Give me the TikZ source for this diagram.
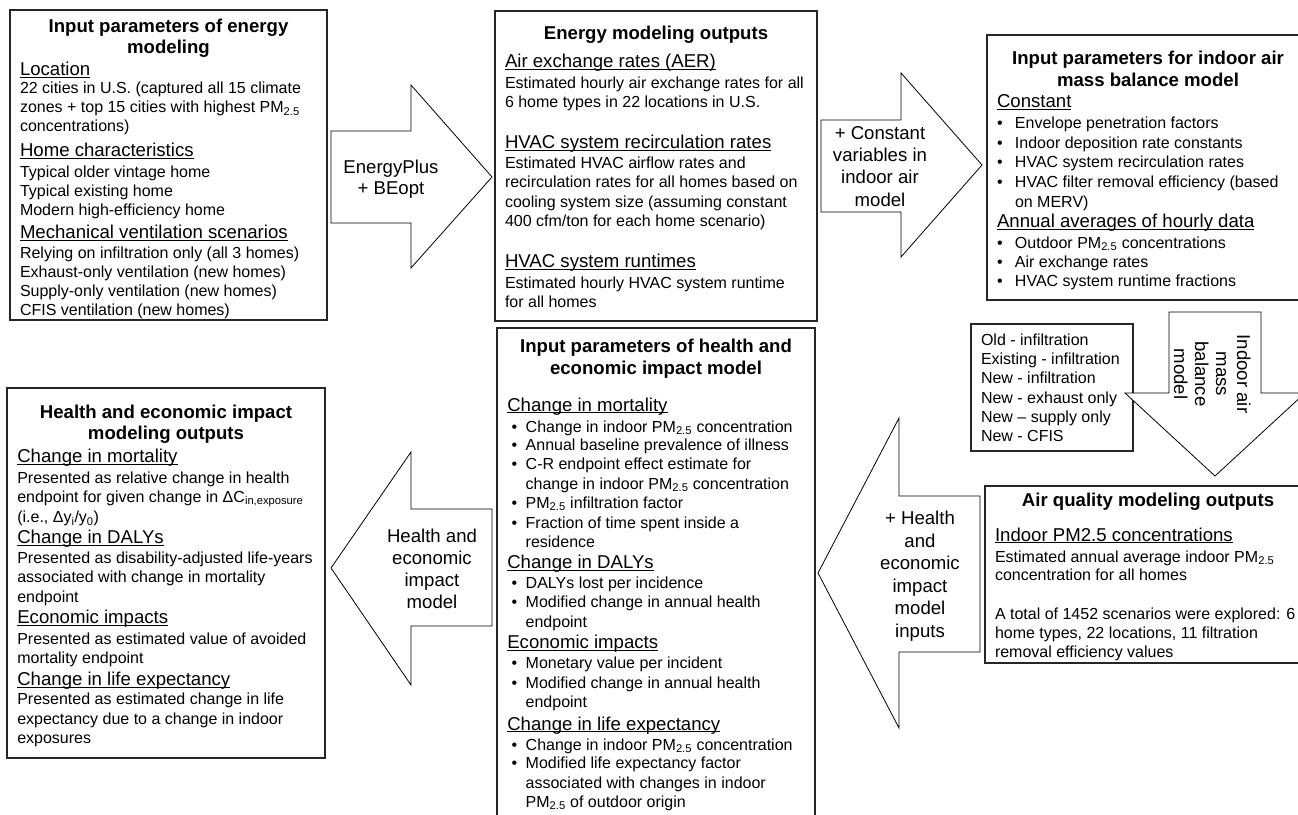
\documentclass[tikz,border=0pt]{standalone}
\usepackage{fontspec}
\setmainfont{Liberation Sans}
\newcount\tlc
\newcommand\bodyf{\fontsize{16}{19}\selectfont}
\newcommand\headf{\fontsize{18.6}{22}\selectfont}
\newcommand\titf{\fontsize{18.6}{22}\selectfont\bfseries}
\newcommand\hul[1]{\setbox0\hbox{#1}\rlap{\rule[-2pt]{\wd0}{0.9pt}}\box0}
\newcommand\PM{PM\textsubscript{2.5}}
\tikzset{
 box/.style={draw=black!85, line width=1.1pt, fill=white, inner sep=0pt, outer sep=0pt, anchor=north west},
 blockarrow/.style={draw=black, line width=0.8pt, fill=white, line join=miter},
 txt/.style={inner sep=0pt, outer sep=0pt, font=\bodyf, anchor=base west},
 hdtxt/.style={inner sep=0pt, outer sep=0pt, font=\headf, anchor=base west},
 ttl/.style={inner sep=0pt, outer sep=0pt, font=\titf, anchor=base},
 atxt/.style={inner sep=0pt, outer sep=0pt, font=\headf, anchor=base},
 vtxt/.style={inner sep=0pt, outer sep=0pt, font=\headf, anchor=base, rotate=-90},
}
\newcommand\tline[3]{\global\advance\tlc1\relax\node[txt] (t\the\tlc) at (#1,#2) {#3};}
\newcommand\hdl[3]{\global\advance\tlc1\relax\node[hdtxt] (t\the\tlc) at (#1,#2) {\hul{#3}};}
\newcommand\bline[4]{\global\advance\tlc1\relax\node[txt] (t\the\tlc) at (#1,#3) {\makebox[#2pt][l]{\textbullet}#4};}
\newcommand\ctr[4]{\global\advance\tlc1\relax\node[#1] (t\the\tlc) at (#2,#3) {#4};}
\begin{document}
\begin{tikzpicture}[x=1pt,y=-1pt]
\useasboundingbox (0,0) rectangle (1298,814);
\clip (0,0) rectangle (1298,814);
% ---------- boxes ----------
\node[box, minimum width=317pt, minimum height=310pt] (A) at (10,10) {};
\node[box, minimum width=322pt, minimum height=310pt] (B) at (495,11) {};
\node[box, minimum width=323pt, minimum height=265pt] (C) at (987,35) {};
\node[box, minimum width=162pt, minimum height=127pt] (D) at (971,324) {};
\node[box, minimum width=325pt, minimum height=177pt] (E) at (985,486) {};
\node[box, minimum width=318pt, minimum height=500pt] (F) at (497,328) {};
\node[box, minimum width=318pt, minimum height=370pt] (G) at (7,388) {};
% ---------- block arrows ----------
\draw[blockarrow] (331,131) -- (411,131) -- (411,85) -- (492,177) -- (411,268) -- (411,223) -- (331,223) -- cycle;
\draw[blockarrow] (821,120) -- (901,120) -- (901,73) -- (982,165) -- (901,257) -- (901,212) -- (821,212) -- cycle;
\draw[blockarrow] (1169,312) -- (1261,312) -- (1261,393) -- (1305,393) -- (1215,476) -- (1125,393) -- (1169,393) -- cycle;
\draw[blockarrow] (980,496) -- (899,496) -- (899,418) -- (818,573) -- (899,728) -- (899,652) -- (980,652) -- cycle;
\draw[blockarrow] (492,509) -- (411,509) -- (411,452) -- (331,568) -- (411,685) -- (411,626) -- (492,626) -- cycle;
% ---------- arrow texts ----------
\ctr{atxt}{391}{173.8}{EnergyPlus}
\ctr{atxt}{391}{194.4}{+ BEopt}
\ctr{atxt}{880}{139.4}{+ Constant}
\ctr{atxt}{880}{161.6}{variables in}
\ctr{atxt}{880}{183.8}{indoor air}
\ctr{atxt}{880}{206}{model}
\ctr{atxt}{920}{524.8}{+ Health}
\ctr{atxt}{920}{547.3}{and}
\ctr{atxt}{920}{569.8}{economic}
\ctr{atxt}{920}{592.3}{impact}
\ctr{atxt}{920}{614.8}{model}
\ctr{atxt}{920}{637.3}{inputs}
\ctr{atxt}{432}{542}{Health and}
\ctr{atxt}{432}{564}{economic}
\ctr{atxt}{432}{586}{impact}
\ctr{atxt}{432}{608}{model}
\ctr{vtxt}{1237}{374}{Indoor air}
\ctr{vtxt}{1216}{374}{mass}
\ctr{vtxt}{1195}{374}{balance}
\ctr{vtxt}{1174}{374}{model}
% ---------- box A ----------
\ctr{ttl}{168.5}{32.8}{Input parameters of energy}
\ctr{ttl}{168.5}{53.8}{modeling}
\hdl{20}{75.5}{Location}
\tline{20}{93.5}{22 cities in U.S. (captured all 15 climate}
\tline{20}{112.5}{zones + top 15 cities with highest \PM}
\tline{20}{131}{concentrations)}
\hdl{20}{156.5}{Home characteristics}
\tline{20}{177.5}{Typical older vintage home}
\tline{20}{196.5}{Typical existing home}
\tline{20}{215.8}{Modern high-efficiency home}
\hdl{20}{238.5}{Mechanical ventilation scenarios}
\tline{20}{258.5}{Relying on infiltration only (all 3 homes)}
\tline{20}{277.5}{Exhaust-only ventilation (new homes)}
\tline{20}{296.5}{Supply-only ventilation (new homes)}
\tline{20}{315.5}{CFIS ventilation (new homes)}
% ---------- box B ----------
\ctr{ttl}{656}{39.5}{Energy modeling outputs}
\hdl{505}{67.8}{Air exchange rates (AER)}
\tline{505}{88}{Estimated hourly air exchange rates for all}
\tline{505}{107}{6 home types in 22 locations in U.S.}
\hdl{505}{148.8}{HVAC system recirculation rates}
\tline{505}{168.6}{Estimated HVAC airflow rates and}
\tline{505}{187.6}{recirculation rates for all homes based on}
\tline{505}{207}{cooling system size (assuming constant}
\tline{505}{226.3}{400 cfm/ton for each home scenario)}
\hdl{505}{267.8}{HVAC system runtimes}
\tline{505}{288}{Estimated hourly HVAC system runtime}
\tline{505}{307}{for all homes}
% ---------- box C ----------
\ctr{ttl}{1148}{64.4}{Input parameters for indoor air}
\ctr{ttl}{1148}{86}{mass balance model}
\hdl{997}{107.8}{Constant}
\bline{997}{18}{128.6}{Envelope penetration factors}
\bline{997}{18}{148}{Indoor deposition rate constants}
\bline{997}{18}{167.6}{HVAC system recirculation rates}
\bline{997}{18}{187}{HVAC filter removal efficiency (based}
\tline{1015}{207}{on MERV)}
\hdl{997}{227.8}{Annual averages of hourly data}
\bline{997}{18}{248}{Outdoor \PM\ concentrations}
\bline{997}{18}{267}{Air exchange rates}
\bline{997}{18}{286}{HVAC system runtime fractions}
% ---------- box D ----------
\tline{981}{345.3}{Old - infiltration}
\tline{981}{364.5}{Existing - infiltration}
\tline{981}{383.7}{New - infiltration}
\tline{981}{403}{New - exhaust only}
\tline{981}{422.2}{New -- supply only}
\tline{981}{441.4}{New - CFIS}
% ---------- box E ----------
\ctr{ttl}{1148}{506}{Air quality modeling outputs}
\hdl{995}{541}{Indoor PM2.5 concentrations}
\tline{995}{562}{Estimated annual average indoor \PM}
\tline{995}{580.5}{concentration for all homes}
\tline{995}{619}{A total of 1452 scenarios were explored: 6}
\tline{995}{638}{home types, 22 locations, 11 filtration}
\tline{995}{657}{removal efficiency values}
% ---------- box F ----------
\ctr{ttl}{656}{352.8}{Input parameters of health and}
\ctr{ttl}{656}{374.5}{economic impact model}
\hdl{507.3}{411}{Change in mortality}
\bline{511.5}{14.2}{432}{Change in indoor \PM\ concentration}
\bline{511.5}{14.2}{450.6}{Annual baseline prevalence of illness}
\bline{511.5}{14.2}{469.3}{C-R endpoint effect estimate for}
\tline{525.7}{489.3}{change in indoor \PM\ concentration}
\bline{511.5}{14.2}{508}{\PM\ infiltration factor}
\bline{511.5}{14.2}{528}{Fraction of time spent inside a}
\tline{525.7}{547}{residence}
\hdl{507.3}{568.8}{Change in DALYs}
\bline{511.5}{14.2}{588.6}{DALYs lost per incidence}
\bline{511.5}{14.2}{607.6}{Modified change in annual health}
\tline{525.7}{627.6}{endpoint}
\hdl{507.3}{648.8}{Economic impacts}
\bline{511.5}{14.2}{668.6}{Monetary value per incident}
\bline{511.5}{14.2}{688}{Modified change in annual health}
\tline{525.7}{707.6}{endpoint}
\hdl{507.3}{730}{Change in life expectancy}
\bline{511.5}{14.2}{750.3}{Change in indoor \PM\ concentration}
\bline{511.5}{14.2}{768.6}{Modified life expectancy factor}
\tline{525.7}{788.6}{associated with changes in indoor}
\tline{525.7}{807}{\PM\ of outdoor origin}
% ---------- box G ----------
\ctr{ttl}{166}{418.8}{Health and economic impact}
\ctr{ttl}{166}{439.4}{modeling outputs}
\hdl{17.3}{462.8}{Change in mortality}
\tline{17.3}{483}{Presented as relative change in health}
\tline{17.3}{502}{endpoint for given change in ΔC\textsubscript{in,exposure}}
\tline{17.3}{522.6}{(i.e., Δy\textsubscript{i}/y\textsubscript{0})}
\hdl{17.3}{543.4}{Change in DALYs}
\tline{17.3}{563.6}{Presented as disability-adjusted life-years}
\tline{17.3}{582.6}{associated with change in mortality}
\tline{17.3}{602}{endpoint}
\hdl{17.3}{623.4}{Economic impacts}
\tline{17.3}{644.3}{Presented as estimated value of avoided}
\tline{17.3}{663}{mortality endpoint}
\hdl{17.3}{685.4}{Change in life expectancy}
\tline{17.3}{704.6}{Presented as estimated change in life}
\tline{17.3}{724.3}{expectancy due to a change in indoor}
\tline{17.3}{743.6}{exposures}
\end{tikzpicture}
\end{document}
